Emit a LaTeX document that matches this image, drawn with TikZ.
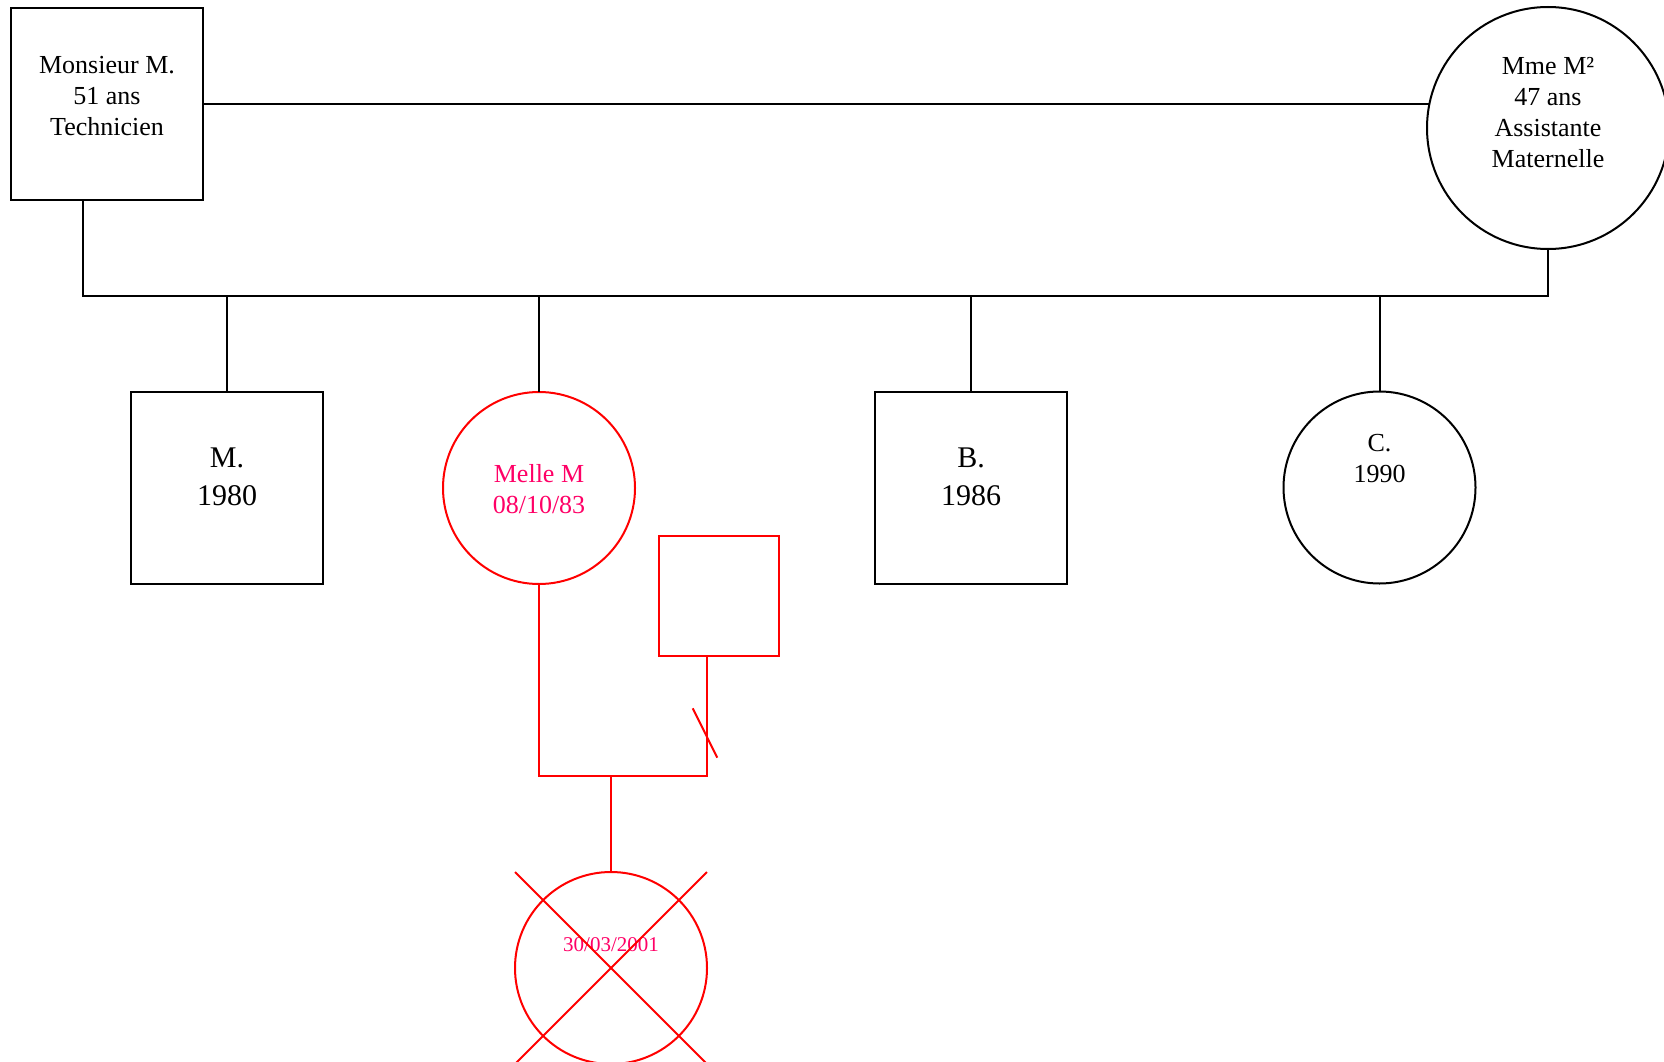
\documentclass[tikz,border=0pt]{standalone}
\usepackage{fontspec}
\setmainfont{Liberation Serif}
\definecolor{txtpink}{RGB}{255,0,102}
\begin{document}
\begin{tikzpicture}[x=1pt,y=-1pt, line width=2pt,
  sq/.style={draw, rectangle, minimum size=192pt, inner sep=0pt, outer sep=0pt},
  ci/.style={draw, circle, minimum size=192pt, inner sep=0pt, outer sep=0pt},
  lbl/.style={align=center, inner sep=0pt, font=\fontsize{26}{31}\selectfont},
  big/.style={align=center, inner sep=0pt, font=\fontsize{30}{37.5}\selectfont},
  small/.style={inner sep=0pt, font=\fontsize{21}{25}\selectfont}]
\useasboundingbox (0,0) rectangle (1664,1062);
% parents
\node[sq] (mon) at (107,104) {};
\node[lbl] (montxt) at (107,96) {Monsieur M.\\51 ans\\Technicien};
\node[ci, minimum size=242pt] (mme) at (1548,128) {};
\node[lbl] (mmetxt) at (1548,113) {Mme M²\\47 ans\\Assistante\\Maternelle};
% children
\node[sq] (m) at (227,487.5) {};
\node[big] (mtxt) at (227,477) {M.\\1980};
\node[ci, draw=red] (melle) at (539,488) {};
\node[lbl, text=txtpink] (melletxt) at (539,489.5) {Melle M\\08/10/83};
\node[sq] (b) at (971,487.5) {};
\node[big] (btxt) at (971,477) {B.\\1986};
\node[ci] (c) at (1379.5,487.5) {};
\node[lbl] (ctxt) at (1379.5,458.5) {C.\\1990};
% partner and child
\node[sq, draw=red, minimum size=120pt] (pere) at (719,596) {};
\node[ci, draw=red] (bebe) at (611,968) {};
\node[small, text=txtpink] (bebetxt) at (611,945) {30/03/2001};
% coordinates
\coordinate (sibR) at (1548,296);
\coordinate (monL) at ([xshift=-24pt]mon.south);
\coordinate (pl) at ([xshift=-12pt]pere.south);
\coordinate (j) at (611,776);
\coordinate (s1) at (692.7,708.3);
\coordinate (s2) at (717.3,757.7);
\coordinate (x1) at (515,872);
\coordinate (x2) at (707,1064);
\coordinate (x3) at (707,872);
\coordinate (x4) at (515,1064);
% black connectors
\draw (mon.east) -- (mon.east -| mme.168.6);
\draw (monL) |- (sibR) -- (mme.south);
\draw (m.north) -- (m.north |- sibR);
\draw (melle.north) -- (melle.north |- sibR);
\draw (b.north) -- (b.north |- sibR);
\draw (c.north) -- (c.north |- sibR);
% red connectors
\draw[red] (melle.south) |- (pl |- j) -- (pl);
\draw[red] (j) -- (bebe.north);
\draw[red] (s1) -- (s2);
\draw[red] (x1) -- (x2);
\draw[red] (x3) -- (x4);
\end{tikzpicture}
\end{document}
